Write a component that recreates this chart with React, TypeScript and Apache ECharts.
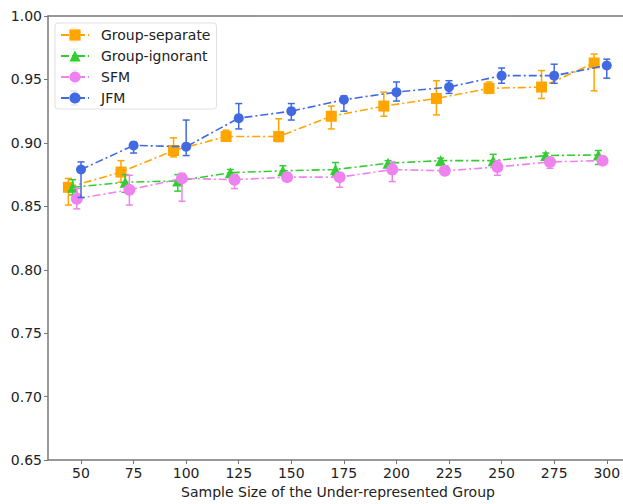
import React, { useEffect, useRef } from "react";
import * as echarts from "echarts";

const sampleSizes = [50, 75, 100, 125, 150, 175, 200, 225, 250, 275, 300];
const xTickValues = [50, 75, 100, 125, 150, 175, 200, 225, 250, 275, 300];
const yTickValues = [0.65, 0.7, 0.75, 0.8, 0.85, 0.9, 0.95, 1.0];

const seriesNames = ["Group-separate", "Group-ignorant", "SFM", "JFM"];
// horizontal dodge of each method's points (sample-size units)
const dodge = [-6, -4, -2, 0];

const sepMean = [0.865, 0.877, 0.894, 0.905, 0.905, 0.921, 0.929, 0.935, 0.943, 0.944, 0.963];
const sepLow = [0.851, 0.869, 0.889, 0.902, 0.901, 0.911, 0.921, 0.922, 0.939, 0.935, 0.941];
const sepHigh = [0.872, 0.886, 0.904, 0.910, 0.919, 0.929, 0.940, 0.949, 0.948, 0.957, 0.970];

const ignMean = [0.865, 0.869, 0.870, 0.8765, 0.878, 0.879, 0.884, 0.886, 0.886, 0.890, 0.8905];
const ignLow = [0.859, 0.861, 0.862, 0.8735, 0.876, 0.874, 0.882, 0.883, 0.883, 0.887, 0.883];
const ignHigh = [0.871, 0.875, 0.875, 0.879, 0.882, 0.8845, 0.886, 0.888, 0.891, 0.892, 0.894];

const sfmMean = [0.856, 0.863, 0.872, 0.871, 0.873, 0.873, 0.879, 0.878, 0.881, 0.885, 0.886];
const sfmLow = [0.848, 0.851, 0.854, 0.864, 0.870, 0.865, 0.8695, 0.875, 0.8745, 0.880, 0.883];
const sfmHigh = [0.864, 0.8745, 0.876, 0.875, 0.876, 0.876, 0.885, 0.882, 0.886, 0.888, 0.889];

const jfmMean = [0.879, 0.898, 0.897, 0.9195, 0.925, 0.934, 0.940, 0.944, 0.953, 0.953, 0.961];
const jfmLow = [0.857, 0.892, 0.890, 0.911, 0.918, 0.925, 0.933, 0.939, 0.947, 0.947, 0.951];
const jfmHigh = [0.885, 0.900, 0.918, 0.931, 0.931, 0.937, 0.948, 0.949, 0.959, 0.962, 0.966];

const means = [sepMean, ignMean, sfmMean, jfmMean];
const lows = [sepLow, ignLow, sfmLow, jfmLow];
const highs = [sepHigh, ignHigh, sfmHigh, jfmHigh];

const colors = ["#FFA500", "#32CD32", "#EE82EE", "#4169E1"];
const symbols = ["rect", "triangle", "circle", "circle"];
const symbolSizes = [11, 11, 12, 10];

const FONT = "DejaVu Sans";
const X_MIN = 34.3;
const X_MAX = 310.1;

export default function App() {
  const ref = useRef<HTMLDivElement>(null);

  useEffect(() => {
    if (!ref.current) return;
    const chart = echarts.init(ref.current, null, { renderer: "svg" });

    const series: any[] = [];
    seriesNames.forEach((name, i) => {
      const color = colors[i];
      series.push({
        name: "err-" + name,
        type: "custom",
        z: 2 + i * 2,
        silent: true,
        data: sampleSizes.map((s, k) => [s + dodge[i], lows[i][k], highs[i][k]]),
        encode: { x: 0, y: [1, 2] },
        renderItem: (params: any, api: any) => {
          const x = api.value(0);
          const p1 = api.coord([x, api.value(1)]);
          const p2 = api.coord([x, api.value(2)]);
          const cap = 3.5;
          const st = { stroke: color, lineWidth: 1.5 };
          return {
            type: "group",
            children: [
              { type: "line", shape: { x1: p1[0], y1: p1[1], x2: p2[0], y2: p2[1] }, style: st },
              { type: "line", shape: { x1: p1[0] - cap, y1: p1[1], x2: p1[0] + cap, y2: p1[1] }, style: st },
              { type: "line", shape: { x1: p2[0] - cap, y1: p2[1], x2: p2[0] + cap, y2: p2[1] }, style: st },
            ],
          };
        },
      });
      series.push({
        name,
        type: "line",
        z: 3 + i * 2,
        data: sampleSizes.map((s, k) => [s + dodge[i], means[i][k]]),
        symbol: symbols[i],
        symbolSize: symbolSizes[i],
        showSymbol: true,
        itemStyle: { color, opacity: 1 },
        lineStyle: { color, width: 1.6, type: [8, 3, 2, 3] },
      });
    });

    // small error-bar glyphs for the legend entries (decoration only)
    const legendBars: any[] = colors.map((c, i) => {
      const cy = 35 + i * 21;
      const st = { stroke: c, lineWidth: 1.5 };
      return {
        type: "group",
        z: 200,
        children: [
          { type: "line", shape: { x1: 74, y1: cy - 7, x2: 74, y2: cy + 7 }, style: st },
          { type: "line", shape: { x1: 70.5, y1: cy - 7, x2: 77.5, y2: cy - 7 }, style: st },
          { type: "line", shape: { x1: 70.5, y1: cy + 7, x2: 77.5, y2: cy + 7 }, style: st },
        ],
      };
    });

    chart.setOption({
      animation: false,
      backgroundColor: "#ffffff",
      textStyle: { fontFamily: FONT },
      grid: {
        left: 48,
        top: 16,
        bottom: 40,
        right: 12,
        show: false,
      },
      legend: {
        data: seriesNames,
        orient: "vertical",
        left: 55,
        top: 23,
        padding: [5, 6, 4, 5],
        itemWidth: 28,
        itemHeight: 14,
        itemGap: 7,
        borderColor: "#e0e0e0",
        borderWidth: 1,
        borderRadius: 3,
        backgroundColor: "rgba(255,255,255,0.85)",
        textStyle: { fontFamily: FONT, fontSize: 14, color: "#222", padding: [0, 0, 0, 7] },
      },
      graphic: legendBars,
      xAxis: [
        {
          type: "value",
          min: X_MIN,
          max: X_MAX,
          name: "Sample Size of the Under-represented Group",
          nameLocation: "middle",
          nameGap: 22,
          nameTextStyle: { fontFamily: FONT, fontSize: 14, color: "#222" },
          axisLine: { show: true, lineStyle: { color: "#777", width: 1.5 } },
          axisTick: { show: true, length: 4, customValues: xTickValues, lineStyle: { color: "#777" } },
          axisLabel: {
            customValues: xTickValues,
            fontFamily: FONT,
            fontSize: 14,
            color: "#222",
            margin: 6,
          },
          splitLine: { show: false },
        },
        {
          type: "value",
          position: "top",
          min: X_MIN,
          max: X_MAX,
          axisLine: { show: true, lineStyle: { color: "#777", width: 1.5 } },
          axisTick: { show: false },
          axisLabel: { show: false },
          splitLine: { show: false },
        },
      ],
      yAxis: {
        type: "value",
        min: 0.65,
        max: 1.0,
        axisLine: { show: true, lineStyle: { color: "#777", width: 1.5 } },
        axisTick: { show: true, length: 4, customValues: yTickValues, lineStyle: { color: "#777" } },
        axisLabel: {
          customValues: yTickValues,
          fontFamily: FONT,
          fontSize: 14,
          color: "#222",
          margin: 6,
          formatter: (v: number) => v.toFixed(2),
        },
        splitLine: { show: false },
      },
      series,
    });

    return () => chart.dispose();
  }, []);

  return (
    <div
      ref={ref}
      style={{ position: "fixed", left: 0, top: 0, width: 640, height: 504, background: "#fff" }}
    />
  );
}
